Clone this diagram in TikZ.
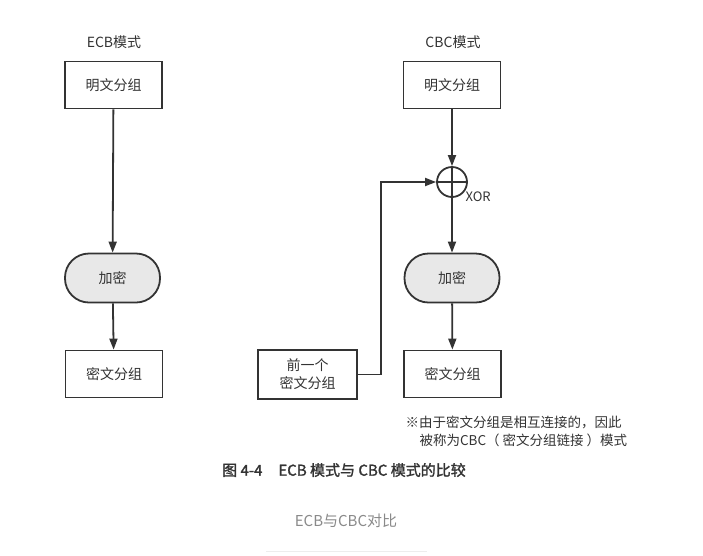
\documentclass[tikz,border=0pt]{standalone}
\usepackage{fontspec}
\setmainfont{Noto Sans CJK SC}
\newfontfamily\capfont[FakeBold=1.5]{Noto Sans CJK SC}
\usetikzlibrary{arrows.meta,positioning,calc}
\definecolor{Ink}{HTML}{333333}
\definecolor{SoftGray}{HTML}{E8E8E8}
\definecolor{Muted}{HTML}{8A8A8A}
\definecolor{Rule}{HTML}{EDEDED}
\tikzset{
 block/.style={draw=Ink, line width=1.8pt, fill=white, minimum width=97pt, minimum height=47pt, align=center, inner sep=3pt, font=\fontsize{14}{18}\selectfont, text=Ink},
 encblock/.style={block, fill=SoftGray, rounded corners=24pt, minimum width=95pt, minimum height=49pt},
 xorsym/.style={circle, draw=Ink, line width=1.8pt, minimum size=30pt, inner sep=0pt},
 title/.style={font=\fontsize{14}{16}\selectfont, text=Ink},
 arrow/.style={-{Triangle[length=11pt,width=8pt]}, line width=1.8pt, draw=Ink}
}

\begin{document}
\begin{tikzpicture}[x=1pt,y=-1pt]
\useasboundingbox[fill=white] (0,0) rectangle (703,555);

% ECB
\node[title] (ecbtitle) at (114,42) {ECB模式};
\node[block] (ecbplain) at (113.5,85) {明文分组};
\node[encblock] (ecbenc) at (112.5,278) {加密};
\node[block] (ecbcipher) at (114,374) {密文分组};
\draw[arrow] (ecbplain) -- (ecbenc);
\draw[arrow] (ecbenc) -- (ecbcipher);

% CBC
\node[title] (cbctitle) at (453,42) {CBC模式};
\node[block] (cbcplain) at (452,85) {明文分组};
\node[xorsym] (xor) at (452,182) {};
\node[title, anchor=west, font=\fontsize{13}{15}\selectfont] (xorlabel) at (462,197) {XOR};
\node[encblock] (cbcenc) at (452,278) {加密};
\node[block] (cbccipher) at (452.5,374) {密文分组};
\node[block, minimum width=99pt, minimum height=49pt] (prevcipher) at (307.5,374.5) {前一个\\密文分组};
\draw[line width=1.8pt, draw=Ink] (xor.north) -- (xor.south) (xor.west) -- (xor.east);
\draw[arrow] (cbcplain) -- (xor);
\draw[arrow] (xor) -- (cbcenc);
\draw[arrow] (cbcenc) -- (cbccipher);
\draw[arrow] (prevcipher.east) -- ++(23,0) |- (xor.west);

% note and captions
\node[anchor=north west, align=left, text=Ink, font=\fontsize{13.5}{18}\selectfont] (note) at (402,412)
 {※由于密文分组是相互连接的，因此\\\hspace{14pt}被称为CBC（ 密文分组链接 ）模式};
\node[text=Ink, font=\capfont\fontsize{15}{17}\selectfont] (caption) at (344,470) {图 4-4\hspace{16pt}ECB 模式与 CBC 模式的比较};
\node[text=Muted, font=\fontsize{15}{17}\selectfont] (subtitle) at (346,521) {ECB与CBC对比};
\draw[Rule, line width=1pt] (266,551) -- (427,551);
\end{tikzpicture}
\end{document}
